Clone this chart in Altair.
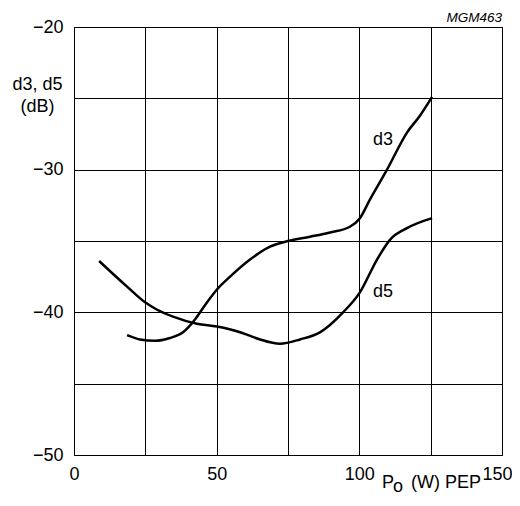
import altair as alt
import pandas as pd

# d3 curve
d3_x = [18.6, 23.1, 28.4, 33.6, 38.2, 42.4, 45.9, 50.1, 54.7, 61.7, 68.7, 75.0, 82.7, 89.7, 96.7, 100.2, 103.7, 109.7, 116.7, 121.3, 125.5]
d3_y = [-41.6, -41.9, -42.0, -41.8, -41.4, -40.5, -39.5, -38.4, -37.5, -36.3, -35.4, -35.0, -34.7, -34.4, -34.0, -33.4, -32.1, -30.0, -27.4, -26.2, -24.9]
# d5 curve
d5_x = [8.8, 18.6, 24.9, 29.0, 34.7, 43.1, 50.1, 58.2, 61.0, 65.2, 72.2, 79.2, 86.2, 94.3, 100.2, 106.2, 110.8, 116.7, 125.5]
d5_y = [-36.4, -38.2, -39.3, -39.8, -40.3, -40.8, -41.0, -41.4, -41.6, -41.9, -42.2, -41.9, -41.4, -40.0, -38.6, -36.3, -34.9, -34.1, -33.4]

label_text = ["d3", "d5"]
label_x = [108.3, 108.3]
label_y = [-27.9, -38.6]

x_grid = [0, 25, 50, 75, 100, 125, 150]
y_grid = [-50, -45, -40, -35, -30, -25, -20]

FONT = "Liberation Sans"
FS = 18

df = pd.concat([
    pd.DataFrame({"x": d3_x, "y": d3_y, "s": "d3", "o": range(len(d3_x))}),
    pd.DataFrame({"x": d5_x, "y": d5_y, "s": "d5", "o": range(len(d5_x))}),
])
lab = pd.DataFrame({"t": label_text, "x": label_x, "y": label_y})

xs = alt.Scale(domain=[0, 150], nice=False)
ys = alt.Scale(domain=[-50, -20], nice=False)

xaxis = alt.Axis(values=x_grid, grid=True, gridColor="black", gridOpacity=1, gridWidth=1,
                 ticks=False, domain=False, labelFont=FONT, labelFontSize=FS, labelColor="black",
                 labelPadding=10, labelFlush=False, labelOverlap=False,
                 labelOffset=alt.ExprRef("datum.value == 150 ? -5 : 0"),
                 labelExpr="datum.value % 50 == 0 ? datum.label : ''", title=None)
yaxis = alt.Axis(values=y_grid, grid=True, gridColor="black", gridOpacity=1, gridWidth=1,
                 ticks=False, domain=False, labelFont=FONT, labelFontSize=FS, labelColor="black",
                 labelPadding=11, labelFlush=False, labelOverlap=False,
                 labelExpr="datum.value % 10 == 0 ? replace(format(datum.value, 'd'), '-', '\u2212') : ''",
                 title=["d3, d5", "(dB)"], titleAngle=0, titleAlign="center", titleBaseline="middle",
                 titleFont=FONT, titleFontSize=FS, titleFontWeight="normal", titleColor="black",
                 titleX=-37, titleY=57, titleLineHeight=22)

lines = alt.Chart(df).mark_line(color="black", strokeWidth=2.5, interpolate="monotone").encode(
    x=alt.X("x:Q", scale=xs, axis=xaxis),
    y=alt.Y("y:Q", scale=ys, axis=yaxis),
    detail="s:N",
    order="o:Q",
)

labels = alt.Chart(lab).mark_text(font=FONT, fontSize=FS, color="black").encode(
    x=alt.X("x:Q", scale=xs), y=alt.Y("y:Q", scale=ys), text="t:N"
)

title_p = alt.Chart(pd.DataFrame({"t": ["P"]})).mark_text(
    font=FONT, fontSize=FS, color="black", align="left", baseline="alphabetic"
).encode(x=alt.value(308), y=alt.value(461), text="t:N")
title_o = alt.Chart(pd.DataFrame({"t": ["o"]})).mark_text(
    font=FONT, fontSize=FS, color="black", align="left", baseline="alphabetic"
).encode(x=alt.value(319), y=alt.value(465), text="t:N")
title_rest = alt.Chart(pd.DataFrame({"t": ["(W) PEP"]})).mark_text(
    font=FONT, fontSize=FS, color="black", align="left", baseline="alphabetic"
).encode(x=alt.value(337), y=alt.value(461), text="t:N")
code = alt.Chart(pd.DataFrame({"t": ["MGM463"]})).mark_text(
    font=FONT, fontSize=13.5, fontStyle="italic", color="black", align="right", baseline="alphabetic"
).encode(x=alt.value(428), y=alt.value(-5.5), text="t:N")

chart = alt.layer(lines, labels, title_p, title_o, title_rest, code).properties(
    width=428, height=428,
    autosize=alt.AutoSizeParams(type="none"),
    padding={"left": 66, "top": 19, "right": 10, "bottom": 43},
).configure_view(stroke="black", strokeWidth=1)

chart.save("out.html", embed_options={"renderer": "svg", "actions": False})
